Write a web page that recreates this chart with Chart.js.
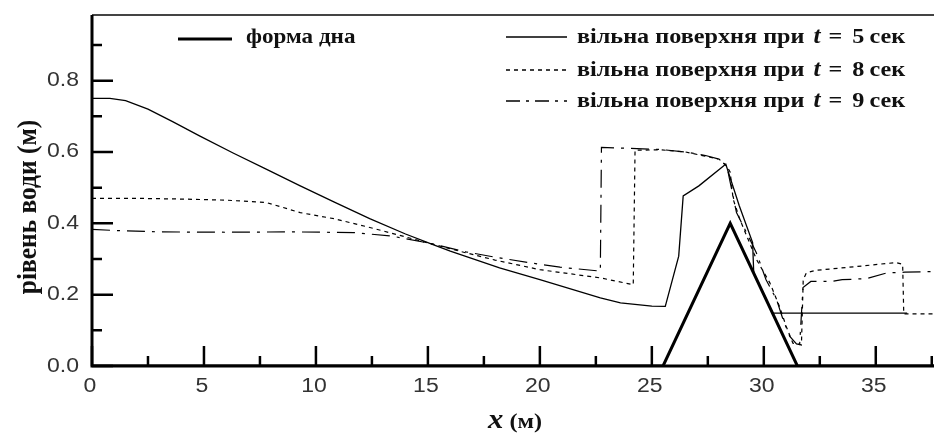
<!DOCTYPE html>
<html>
<head>
<meta charset="utf-8">
<script src="https://cdn.jsdelivr.net/npm/chart.js@4.4.1/dist/chart.umd.min.js"></script>
<style>
  body { margin: 0; background: #fff; }
  canvas { display: block; }
</style>
</head>
<body>
<canvas id="chart" width="934" height="435"></canvas>
<script>
// bed shape
const bedX = [0, 25.5, 28.5, 31.5, 37.6];
const bedY = [0, 0, 0.4, 0, 0];

// free surface, t = 5 s
const t5X = [0, 0.8, 1.5, 2.5, 3.6, 4.8, 6.3, 7.8, 9.3, 10.8, 12.4, 14, 15.2, 16, 18.2, 20, 22.7, 23.6, 25, 25.6,
             26.2, 26.4, 27.1, 28.2, 28.3, 28.9, 29.5, 29.55, 30.4, 36.4];
const t5Y = [0.75, 0.75, 0.744, 0.72, 0.685, 0.645, 0.597, 0.551, 0.505, 0.46, 0.413, 0.37, 0.341, 0.322, 0.275, 0.242, 0.191, 0.177, 0.168, 0.167,
             0.308, 0.477, 0.505, 0.561, 0.566, 0.45, 0.346, 0.261, 0.148, 0.148];

// free surface, t = 8 s
const t8X = [0, 2, 4, 6, 7.8, 9.3, 10.8, 12.3, 13.4, 15, 16.4, 18, 20, 22.7, 24.17, 24.25,
             25.4, 26.5, 27.4, 28.0, 28.35, 28.5, 28.63, 28.93, 29.67, 30.27, 30.7, 31.0, 31.3, 31.68,
             31.76, 31.9, 32.3, 34, 35.9, 36.2, 36.25, 37.6];
const t8Y = [0.47, 0.47, 0.468, 0.465, 0.458, 0.43, 0.413, 0.39, 0.372, 0.345, 0.322, 0.297, 0.27, 0.247, 0.228, 0.605,
             0.606, 0.6, 0.588, 0.58, 0.56, 0.543, 0.468, 0.411, 0.299, 0.233, 0.167, 0.111, 0.064, 0.059,
             0.242, 0.261, 0.268, 0.278, 0.29, 0.285, 0.146, 0.146];

// free surface, t = 9 s
const t9X = [0, 1, 3, 6, 9, 11.7, 13.4, 15, 16.7, 18, 20, 20.9, 22.7, 22.75,
             24, 25.4, 26.5, 27.4, 28, 28.35, 28.78, 29.38, 29.67, 30.1, 30.57, 30.86, 31.16, 31.46, 31.6,
             31.75, 32.1, 33, 33.5, 34.6, 35.5, 36.3, 37.6];
const t9Y = [0.383, 0.38, 0.376, 0.375, 0.376, 0.374, 0.364, 0.345, 0.32, 0.305, 0.285, 0.277, 0.266, 0.613,
             0.61, 0.607, 0.6, 0.59, 0.58, 0.56, 0.43, 0.355, 0.317, 0.242, 0.186, 0.13, 0.083, 0.062, 0.06,
             0.22, 0.237, 0.237, 0.242, 0.245, 0.261, 0.263, 0.265];

const xTicks = [0, 5, 10, 15, 20, 25, 30, 35];
const xMinor = [2.5, 7.5, 12.5, 17.5, 22.5, 27.5, 32.5, 37.5];
const yTicks = [0, 0.2, 0.4, 0.6, 0.8];
const yMinor = [0.1, 0.3, 0.5, 0.7, 0.9];
const yTickLabels = ["0.0", "0.2", "0.4", "0.6", "0.8"];

const bedLabel = "форма дна";
const surfaceLabel = "вільна поверхня при";
const times = [5, 8, 9];
const unitLabel = "сек";
const xTitle = ["x", "(м)"];
const yTitle = "рівень води (м)";

const dashT8 = [4, 4];
const dashT9 = [18, 7, 3, 7];

function pts(xs, ys) {
    return xs.map((x, i) => ({ x: x, y: ys[i] }));
}

// draw text stretched horizontally, like the original raster
function wideText(ctx, text, x, y, sx) {
    ctx.save();
    ctx.translate(x, y);
    ctx.scale(sx, 1);
    ctx.fillText(text, 0, 0);
    ctx.restore();
    return ctx.measureText(text).width * sx;
}

const framePlugin = {
    id: "frame",
    afterDraw(chart) {
        const ctx = chart.ctx;
        const area = chart.chartArea;
        const xs = chart.scales.x;
        const ys = chart.scales.y;
        ctx.save();

        // top border
        ctx.strokeStyle = "#444";
        ctx.lineWidth = 2;
        ctx.beginPath();
        ctx.moveTo(area.left, area.top);
        ctx.lineTo(area.right, area.top);
        ctx.stroke();

        // axes
        ctx.strokeStyle = "#000";
        ctx.lineWidth = 3;
        ctx.beginPath();
        ctx.moveTo(area.left, area.top);
        ctx.lineTo(area.left, area.bottom);
        ctx.lineTo(area.right, area.bottom);
        ctx.stroke();

        // inward ticks
        ctx.lineWidth = 2.5;
        ctx.beginPath();
        xTicks.forEach(v => {
            const p = xs.getPixelForValue(v);
            ctx.moveTo(p, area.bottom);
            ctx.lineTo(p, area.bottom - 20);
        });
        xMinor.forEach(v => {
            const p = xs.getPixelForValue(v);
            ctx.moveTo(p, area.bottom);
            ctx.lineTo(p, area.bottom - 10);
        });
        yTicks.forEach(v => {
            const p = ys.getPixelForValue(v);
            ctx.moveTo(area.left, p);
            ctx.lineTo(area.left + 21, p);
        });
        yMinor.forEach(v => {
            const p = ys.getPixelForValue(v);
            ctx.moveTo(area.left, p);
            ctx.lineTo(area.left + 10, p);
        });
        ctx.stroke();

        // tick labels
        const sx = 1.15;
        ctx.fillStyle = "#333";
        ctx.font = "20px 'Liberation Sans', Arial, sans-serif";
        ctx.textBaseline = "middle";
        ctx.textAlign = "left";
        yTicks.forEach((v, i) => {
            const w = ctx.measureText(yTickLabels[i]).width * sx;
            wideText(ctx, yTickLabels[i], area.left - 13 - w, ys.getPixelForValue(v), sx);
        });
        ctx.textBaseline = "top";
        xTicks.forEach(v => {
            const s = String(v);
            const w = ctx.measureText(s).width * sx;
            wideText(ctx, s, xs.getPixelForValue(v) - w / 2 - 2, area.bottom + 10, sx);
        });

        // legend
        ctx.fillStyle = "#111";
        ctx.strokeStyle = "#000";
        ctx.textBaseline = "middle";
        const serif = "'Liberation Serif', 'Times New Roman', serif";
        const rowY = [37, 70, 101];
        const lsx = 1.1;

        ctx.lineWidth = 3;
        ctx.setLineDash([]);
        ctx.beginPath();
        ctx.moveTo(178, rowY[0] + 2);
        ctx.lineTo(232, rowY[0] + 2);
        ctx.stroke();
        ctx.font = "bold 21px " + serif;
        wideText(ctx, bedLabel, 246, rowY[0] + 1, 1.1);

        const dashes = [[], dashT8, [14, 6, 3, 6]];
        times.forEach((t, i) => {
            const y = rowY[i];
            ctx.lineWidth = 1.3;
            ctx.setLineDash(dashes[i]);
            ctx.beginPath();
            ctx.moveTo(506, y);
            ctx.lineTo(567, y);
            ctx.stroke();
            ctx.setLineDash([]);
            let x = 577;
            ctx.font = "bold 22px " + serif;
            x += wideText(ctx, surfaceLabel, x, y, lsx) + 9;
            ctx.font = "italic bold 23px " + serif;
            x += wideText(ctx, "t", x, y, lsx) + 8;
            ctx.font = "bold 22px " + serif;
            x += wideText(ctx, "=", x, y, lsx) + 10;
            x += wideText(ctx, String(t), x, y, lsx) + 5;
            wideText(ctx, unitLabel, x, y, lsx);
        });

        // axis titles
        ctx.font = "italic bold 28px " + serif;
        ctx.textBaseline = "alphabetic";
        let tx = 488;
        tx += wideText(ctx, xTitle[0], tx, 428, 1.1) + 6;
        ctx.font = "bold 22px " + serif;
        wideText(ctx, xTitle[1], tx, 428, 1.1);

        ctx.save();
        ctx.translate(29, 207);
        ctx.rotate(-Math.PI / 2);
        ctx.font = "bold 24px " + serif;
        ctx.textAlign = "center";
        ctx.textBaseline = "middle";
        ctx.scale(1.06, 1.1);
        ctx.fillText(yTitle, 0, 0);
        ctx.restore();

        ctx.restore();
    }
};

const lineStyle = {
    borderColor: "#000",
    pointRadius: 0,
    tension: 0,
    fill: false
};

new Chart(document.getElementById("chart").getContext("2d"), {
    type: "line",
    data: {
        datasets: [
            Object.assign({ label: bedLabel, data: pts(bedX, bedY), borderWidth: 3 }, lineStyle),
            Object.assign({ label: "t5", data: pts(t5X, t5Y), borderWidth: 1.3 }, lineStyle),
            Object.assign({ label: "t8", data: pts(t8X, t8Y), borderWidth: 1.2, borderDash: dashT8 }, lineStyle),
            Object.assign({ label: "t9", data: pts(t9X, t9Y), borderWidth: 1.2, borderDash: dashT9 }, lineStyle)
        ]
    },
    options: {
        responsive: false,
        animation: false,
        events: [],
        layout: { padding: { top: 15, right: 0, left: 0, bottom: 0 } },
        plugins: {
            legend: { display: false },
            tooltip: { enabled: false }
        },
        scales: {
            x: {
                type: "linear",
                min: 0,
                max: 37.6,
                grid: { display: false, drawTicks: false },
                border: { display: false },
                ticks: { display: false },
                afterFit(scale) { scale.height = 69; }
            },
            y: {
                min: 0,
                max: 0.984,
                grid: { display: false, drawTicks: false },
                border: { display: false },
                ticks: { display: false },
                afterFit(scale) { scale.width = 92; }
            }
        }
    },
    plugins: [framePlugin]
});
</script>
</body>
</html>
